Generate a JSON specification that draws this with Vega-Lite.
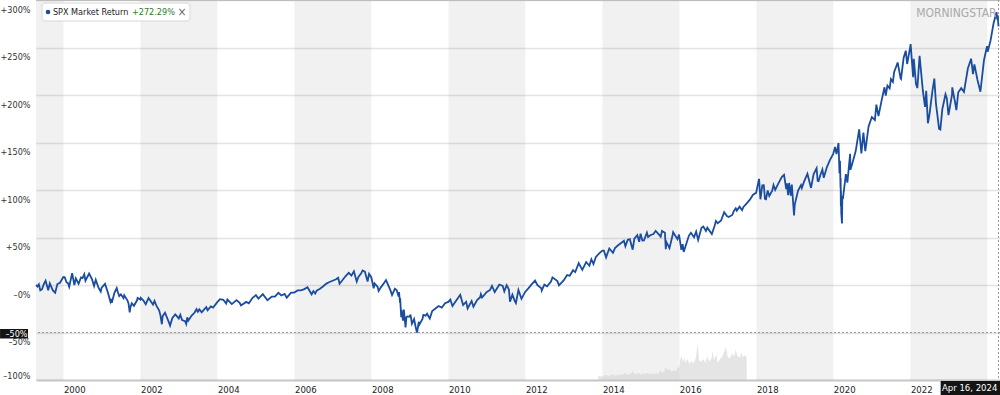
{
  "$schema": "https://vega.github.io/schema/vega-lite/v6.json",
  "width": 964,
  "height": 380,
  "autosize": {"type": "none"},
  "padding": {"left": 36, "top": 0, "right": 0, "bottom": 15},
  "background": "white",
  "config": {
    "view": {"stroke": null},
    "font": "Liberation Sans Narrow, Arial Narrow, DejaVu Sans Condensed, sans-serif",
    "axisX": {
      "grid": false, "ticks": false,
      "tickCount": {"interval": "year", "step": 2},
      "format": "%Y",
      "labelExpr": "datum.label == '2024' ? '' : datum.label",
      "domainColor": "#c6c6c6", "domainWidth": 2,
      "labelAlign": "left", "labelPadding": 4, "labelFontSize": 9.5, "labelColor": "#222222",
      "labelOverlap": false, "labelFlush": false
    }
  },
  "datasets": {
    "spx": [
      {"d":"1999-04-16","v":0},{"d":"1999-04-30","v":-1.6},{"d":"1999-05-13","v":0.8},{"d":"1999-05-27","v":-5.6},{"d":"1999-06-11","v":-4.7},{"d":"1999-06-30","v":1.2},{"d":"1999-07-16","v":4.5},{"d":"1999-08-10","v":-5.6},{"d":"1999-08-25","v":1.8},{"d":"1999-09-23","v":-5.7},{"d":"1999-10-15","v":-8.1},{"d":"1999-11-05","v":1.0},{"d":"1999-11-30","v":2.4},{"d":"1999-12-31","v":8.3},
      {"d":"2000-01-14","v":8.0},{"d":"2000-01-31","v":2.7},{"d":"2000-02-14","v":2.0},{"d":"2000-02-25","v":-1.8},{"d":"2000-03-24","v":12.5},{"d":"2000-04-14","v":0.0},{"d":"2000-04-28","v":7.0},{"d":"2000-05-24","v":1.2},{"d":"2000-06-16","v":7.9},{"d":"2000-06-30","v":7.2},{"d":"2000-07-17","v":11.3},{"d":"2000-07-28","v":4.6},{"d":"2000-09-01","v":12.1},{"d":"2000-09-29","v":5.9},{"d":"2000-10-18","v":-1.1},{"d":"2000-11-03","v":5.4},{"d":"2000-11-30","v":-3.1},{"d":"2000-12-20","v":-6.9},{"d":"2000-12-29","v":-2.7},
      {"d":"2001-01-30","v":1.2},{"d":"2001-02-28","v":-8.6},{"d":"2001-03-22","v":-17.6},{"d":"2001-03-30","v":-14.5},{"d":"2001-04-04","v":-18.6},{"d":"2001-04-30","v":-8.0},{"d":"2001-05-21","v":-3.3},{"d":"2001-05-31","v":-7.4},{"d":"2001-06-14","v":-11.6},{"d":"2001-06-29","v":-9.8},{"d":"2001-07-24","v":-13.8},{"d":"2001-07-31","v":-10.8},{"d":"2001-08-31","v":-16.4},{"d":"2001-09-10","v":-19.5},{"d":"2001-09-21","v":-28.8},{"d":"2001-09-28","v":-23.3},{"d":"2001-10-11","v":-19.2},{"d":"2001-10-31","v":-21.9},{"d":"2001-11-30","v":-16.1},{"d":"2001-12-05","v":-13.7},{"d":"2001-12-31","v":-15.4},
      {"d":"2002-01-04","v":-13.6},{"d":"2002-01-31","v":-16.7},{"d":"2002-02-20","v":-20.4},{"d":"2002-02-28","v":-18.4},{"d":"2002-03-19","v":-13.8},{"d":"2002-04-30","v":-20.6},{"d":"2002-05-14","v":-16.8},{"d":"2002-05-31","v":-21.4},{"d":"2002-06-28","v":-27.0},{"d":"2002-07-10","v":-32.2},{"d":"2002-07-23","v":-41.3},{"d":"2002-07-31","v":-32.8},{"d":"2002-08-22","v":-29.1},{"d":"2002-09-30","v":-39.9},{"d":"2002-10-09","v":-42.7},{"d":"2002-10-31","v":-34.7},{"d":"2002-11-27","v":-30.9},{"d":"2002-12-31","v":-35.2},
      {"d":"2003-01-14","v":-31.4},{"d":"2003-01-31","v":-36.9},{"d":"2003-02-28","v":-38.0},{"d":"2003-03-11","v":-41.0},{"d":"2003-03-21","v":-34.0},{"d":"2003-03-31","v":-37.5},{"d":"2003-04-30","v":-32.4},{"d":"2003-05-30","v":-29.0},{"d":"2003-06-17","v":-25.5},{"d":"2003-06-30","v":-28.2},{"d":"2003-07-14","v":-25.7},{"d":"2003-08-05","v":-28.8},{"d":"2003-08-29","v":-25.7},{"d":"2003-09-18","v":-23.4},{"d":"2003-09-30","v":-26.6},{"d":"2003-10-31","v":-22.6},{"d":"2003-11-21","v":-23.7},{"d":"2003-12-31","v":-18.1},
      {"d":"2004-01-26","v":-14.9},{"d":"2004-02-27","v":-15.6},{"d":"2004-03-24","v":-19.6},{"d":"2004-04-05","v":-15.3},{"d":"2004-05-17","v":-20.1},{"d":"2004-06-30","v":-15.9},{"d":"2004-07-30","v":-18.8},{"d":"2004-08-12","v":-21.6},{"d":"2004-09-30","v":-17.8},{"d":"2004-10-25","v":-19.3},{"d":"2004-11-30","v":-13.5},{"d":"2004-12-31","v":-10.7},
      {"d":"2005-01-24","v":-14.3},{"d":"2005-03-07","v":-9.7},{"d":"2005-04-20","v":-16.1},{"d":"2005-05-31","v":-12.2},{"d":"2005-06-30","v":-12.2},{"d":"2005-08-02","v":-8.2},{"d":"2005-08-30","v":-11.0},{"d":"2005-09-30","v":-9.4},{"d":"2005-10-20","v":-13.3},{"d":"2005-11-30","v":-8.0},{"d":"2005-12-30","v":-8.0},
      {"d":"2006-01-31","v":-5.7},{"d":"2006-02-28","v":-5.6},{"d":"2006-03-31","v":-4.6},{"d":"2006-05-05","v":-2.4},{"d":"2006-06-13","v":-9.8},{"d":"2006-06-30","v":-6.4},{"d":"2006-07-17","v":-8.9},{"d":"2006-07-31","v":-5.9},{"d":"2006-08-31","v":-3.9},{"d":"2006-09-29","v":-1.5},{"d":"2006-10-31","v":1.5},{"d":"2006-11-30","v":3.2},{"d":"2006-12-29","v":4.5},
      {"d":"2007-01-31","v":6.0},{"d":"2007-02-20","v":7.6},{"d":"2007-03-05","v":1.3},{"d":"2007-03-30","v":4.7},{"d":"2007-04-30","v":9.2},{"d":"2007-05-31","v":12.8},{"d":"2007-06-26","v":9.9},{"d":"2007-07-19","v":14.4},{"d":"2007-08-15","v":3.6},{"d":"2007-08-31","v":8.6},{"d":"2007-09-28","v":12.5},{"d":"2007-10-09","v":15.3},{"d":"2007-10-31","v":14.1},{"d":"2007-11-26","v":3.7},{"d":"2007-12-10","v":11.7},{"d":"2007-12-31","v":8.2},
      {"d":"2008-01-23","v":-3.5},{"d":"2008-01-31","v":1.6},{"d":"2008-02-29","v":-1.9},{"d":"2008-03-10","v":-6.2},{"d":"2008-03-31","v":-2.5},{"d":"2008-04-30","v":2.1},{"d":"2008-05-19","v":5.2},{"d":"2008-06-30","v":-5.7},{"d":"2008-07-15","v":-10.5},{"d":"2008-07-31","v":-6.6},{"d":"2008-08-11","v":-3.8},{"d":"2008-08-29","v":-5.5},{"d":"2008-09-15","v":-12.1},{"d":"2008-09-19","v":-7.5},{"d":"2008-09-29","v":-18.5},{"d":"2008-09-30","v":-14.1},{"d":"2008-10-10","v":-33.8},{"d":"2008-10-13","v":-26.1},{"d":"2008-10-27","v":-37.5},{"d":"2008-11-04","v":-25.9},{"d":"2008-11-20","v":-44.6},{"d":"2008-11-28","v":-34.0},{"d":"2008-12-08","v":-33.0},{"d":"2008-12-31","v":-33.5},
      {"d":"2009-01-06","v":-31.1},{"d":"2009-01-20","v":-40.7},{"d":"2009-02-09","v":-35.9},{"d":"2009-02-27","v":-45.8},{"d":"2009-03-09","v":-50.1},{"d":"2009-03-26","v":-38.7},{"d":"2009-03-30","v":-41.9},{"d":"2009-04-30","v":-35.7},{"d":"2009-05-08","v":-31.5},{"d":"2009-05-29","v":-32.3},{"d":"2009-06-12","v":-30.2},{"d":"2009-07-08","v":-35.2},{"d":"2009-07-31","v":-27.3},{"d":"2009-08-31","v":-24.8},{"d":"2009-09-30","v":-22.1},{"d":"2009-10-30","v":-23.7},{"d":"2009-11-30","v":-19.2},{"d":"2009-12-31","v":-17.8},
      {"d":"2010-01-19","v":-15.3},{"d":"2010-02-08","v":-22.2},{"d":"2010-03-31","v":-13.9},{"d":"2010-04-23","v":-10.3},{"d":"2010-05-20","v":-21.1},{"d":"2010-06-18","v":-17.7},{"d":"2010-07-02","v":-24.6},{"d":"2010-08-09","v":-16.9},{"d":"2010-08-26","v":-22.8},{"d":"2010-09-30","v":-15.9},{"d":"2010-10-29","v":-12.8},{"d":"2010-11-05","v":-9.7},{"d":"2010-11-16","v":-13.2},{"d":"2010-12-31","v":-7.3},
      {"d":"2011-01-31","v":-5.2},{"d":"2011-02-18","v":-1.0},{"d":"2011-03-16","v":-7.4},{"d":"2011-04-29","v":0.5},{"d":"2011-05-31","v":-0.9},{"d":"2011-06-15","v":-6.8},{"d":"2011-07-07","v":-0.2},{"d":"2011-07-29","v":-4.8},{"d":"2011-08-08","v":-17.5},{"d":"2011-08-31","v":-10.2},{"d":"2011-09-22","v":-16.7},{"d":"2011-10-03","v":-19.0},{"d":"2011-10-27","v":-5.3},{"d":"2011-11-25","v":-14.6},{"d":"2011-12-30","v":-7.3},
      {"d":"2012-01-31","v":-3.3},{"d":"2012-02-29","v":0.7},{"d":"2012-04-02","v":4.6},{"d":"2012-04-23","v":0.1},{"d":"2012-05-31","v":-3.5},{"d":"2012-06-04","v":-5.8},{"d":"2012-06-29","v":0.4},{"d":"2012-07-25","v":-1.4},{"d":"2012-08-31","v":3.7},{"d":"2012-09-14","v":8.0},{"d":"2012-10-31","v":4.1},{"d":"2012-11-15","v":-0.3},{"d":"2012-12-31","v":5.1},
      {"d":"2013-01-31","v":10.4},{"d":"2013-02-25","v":9.7},{"d":"2013-03-28","v":15.6},{"d":"2013-04-18","v":13.6},{"d":"2013-05-21","v":23.0},{"d":"2013-06-24","v":15.9},{"d":"2013-07-31","v":24.2},{"d":"2013-08-30","v":20.3},{"d":"2013-09-18","v":27.1},{"d":"2013-10-08","v":22.0},{"d":"2013-10-31","v":29.5},{"d":"2013-11-29","v":33.1},{"d":"2013-12-31","v":36.2},
      {"d":"2014-01-15","v":36.2},{"d":"2014-02-05","v":29.1},{"d":"2014-03-07","v":38.4},{"d":"2014-04-11","v":33.8},{"d":"2014-04-30","v":38.8},{"d":"2014-05-30","v":41.8},{"d":"2014-06-30","v":44.4},{"d":"2014-07-24","v":46.5},{"d":"2014-08-07","v":40.7},{"d":"2014-08-29","v":47.6},{"d":"2014-09-18","v":48.2},{"d":"2014-10-15","v":37.2},{"d":"2014-10-31","v":48.7},{"d":"2014-11-28","v":52.4},{"d":"2014-12-16","v":45.4},{"d":"2014-12-29","v":54.1},
      {"d":"2015-01-15","v":46.8},{"d":"2015-01-30","v":47.0},{"d":"2015-02-27","v":55.1},{"d":"2015-03-10","v":50.6},{"d":"2015-03-31","v":52.4},{"d":"2015-04-30","v":53.7},{"d":"2015-05-21","v":57.0},{"d":"2015-06-30","v":52.0},{"d":"2015-07-08","v":50.8},{"d":"2015-07-20","v":56.8},{"d":"2015-08-17","v":54.9},{"d":"2015-08-25","v":37.7},{"d":"2015-08-31","v":45.3},{"d":"2015-09-29","v":38.8},{"d":"2015-10-30","v":53.2},{"d":"2015-11-03","v":55.5},{"d":"2015-12-14","v":48.3},{"d":"2015-12-29","v":53.1},
      {"d":"2016-01-20","v":37.0},{"d":"2016-02-01","v":43.0},{"d":"2016-02-11","v":34.8},{"d":"2016-03-31","v":51.8},{"d":"2016-04-20","v":54.9},{"d":"2016-05-19","v":50.3},{"d":"2016-06-08","v":56.2},{"d":"2016-06-27","v":47.5},{"d":"2016-07-29","v":60.2},{"d":"2016-08-15","v":61.5},{"d":"2016-09-09","v":56.8},{"d":"2016-09-22","v":60.4},{"d":"2016-11-04","v":53.6},{"d":"2016-11-30","v":62.0},{"d":"2016-12-13","v":67.4},{"d":"2016-12-30","v":65.0},
      {"d":"2017-01-31","v":67.9},{"d":"2017-03-01","v":76.6},{"d":"2017-03-27","v":72.6},{"d":"2017-04-13","v":71.6},{"d":"2017-05-17","v":73.7},{"d":"2017-05-31","v":77.7},{"d":"2017-06-19","v":80.8},{"d":"2017-06-29","v":78.3},{"d":"2017-07-26","v":82.5},{"d":"2017-08-18","v":78.8},{"d":"2017-08-31","v":82.2},{"d":"2017-09-29","v":85.6},{"d":"2017-10-31","v":89.8},{"d":"2017-11-30","v":95.1},{"d":"2017-12-29","v":97.0},
      {"d":"2018-01-26","v":111.7},{"d":"2018-02-08","v":90.2},{"d":"2018-02-26","v":104.9},{"d":"2018-03-12","v":105.1},{"d":"2018-03-23","v":90.7},{"d":"2018-04-02","v":90.3},{"d":"2018-04-18","v":99.6},{"d":"2018-05-03","v":93.7},{"d":"2018-05-31","v":99.3},{"d":"2018-06-12","v":105.3},{"d":"2018-06-28","v":100.1},{"d":"2018-07-31","v":107.5},{"d":"2018-08-31","v":113.9},{"d":"2018-09-20","v":116.0},{"d":"2018-10-11","v":101.0},{"d":"2018-10-17","v":107.0},{"d":"2018-10-29","v":94.6},{"d":"2018-11-07","v":107.4},{"d":"2018-11-23","v":94.0},{"d":"2018-12-03","v":105.6},{"d":"2018-12-24","v":73.3},{"d":"2018-12-31","v":84.7},
      {"d":"2019-01-31","v":99.3},{"d":"2019-02-28","v":105.2},{"d":"2019-03-08","v":102.1},{"d":"2019-03-29","v":108.8},{"d":"2019-04-30","v":117.1},{"d":"2019-06-03","v":102.2},{"d":"2019-06-28","v":116.8},{"d":"2019-07-26","v":123.0},{"d":"2019-08-05","v":109.7},{"d":"2019-08-14","v":109.3},{"d":"2019-08-30","v":115.6},{"d":"2019-09-19","v":121.5},{"d":"2019-10-02","v":112.8},{"d":"2019-10-31","v":123.9},{"d":"2019-11-29","v":131.5},{"d":"2019-12-31","v":138.1},
      {"d":"2020-01-17","v":145.4},{"d":"2020-01-31","v":137.7},{"d":"2020-02-19","v":149.5},{"d":"2020-02-28","v":117.7},{"d":"2020-03-04","v":130.7},{"d":"2020-03-09","v":102.4},{"d":"2020-03-10","v":112.4},{"d":"2020-03-12","v":82.8},{"d":"2020-03-13","v":99.8},{"d":"2020-03-16","v":75.8},{"d":"2020-03-23","v":64.8},{"d":"2020-03-26","v":93.8},{"d":"2020-03-31","v":90.5},{"d":"2020-04-29","v":116.7},{"d":"2020-05-13","v":107.8},{"d":"2020-06-08","v":138.2},{"d":"2020-06-11","v":121.2},{"d":"2020-06-30","v":128.4},{"d":"2020-07-31","v":141.0},{"d":"2020-09-02","v":163.8},{"d":"2020-09-23","v":138.5},{"d":"2020-10-12","v":160.4},{"d":"2020-10-30","v":141.0},{"d":"2020-11-30","v":166.9},{"d":"2020-12-31","v":176.8},
      {"d":"2021-01-29","v":173.7},{"d":"2021-02-12","v":189.9},{"d":"2021-03-04","v":177.7},{"d":"2021-03-31","v":192.8},{"d":"2021-04-30","v":208.1},{"d":"2021-05-12","v":199.4},{"d":"2021-05-28","v":209.8},{"d":"2021-06-18","v":207.0},{"d":"2021-06-30","v":216.7},{"d":"2021-07-19","v":213.8},{"d":"2021-07-30","v":223.9},{"d":"2021-08-31","v":233.3},{"d":"2021-09-02","v":234.3},{"d":"2021-09-30","v":217.5},{"d":"2021-10-04","v":216.9},{"d":"2021-10-29","v":239.3},{"d":"2021-11-18","v":246.7},{"d":"2021-12-01","v":232.6},{"d":"2021-12-31","v":251.2},
      {"d":"2022-01-03","v":253.5},{"d":"2022-01-27","v":218.8},{"d":"2022-02-02","v":238.2},{"d":"2022-02-23","v":211.4},{"d":"2022-03-08","v":207.3},{"d":"2022-03-29","v":241.3},{"d":"2022-04-29","v":204.5},{"d":"2022-05-20","v":187.5},{"d":"2022-05-31","v":204.5},{"d":"2022-06-16","v":170.2},{"d":"2022-06-30","v":178.9},{"d":"2022-07-29","v":204.3},{"d":"2022-08-16","v":217.2},{"d":"2022-08-31","v":191.5},{"d":"2022-09-30","v":164.3},{"d":"2022-10-12","v":163.6},{"d":"2022-10-31","v":185.3},{"d":"2022-11-30","v":200.7},{"d":"2022-12-13","v":196.2},{"d":"2022-12-28","v":178.8},
      {"d":"2023-01-31","v":200.4},{"d":"2023-02-02","v":208.0},{"d":"2023-02-28","v":192.6},{"d":"2023-03-13","v":184.1},{"d":"2023-03-31","v":202.8},{"d":"2023-04-28","v":207.2},{"d":"2023-05-24","v":203.2},{"d":"2023-06-30","v":227.9},{"d":"2023-07-31","v":238.2},{"d":"2023-08-18","v":222.0},{"d":"2023-08-31","v":232.2},{"d":"2023-09-29","v":216.0},{"d":"2023-10-27","v":203.4},{"d":"2023-11-30","v":236.6},{"d":"2023-12-29","v":251.5},
      {"d":"2024-01-04","v":245.5},{"d":"2024-01-31","v":257.1},{"d":"2024-02-29","v":275.5},{"d":"2024-03-28","v":287.2},{"d":"2024-04-04","v":279.3},{"d":"2024-04-09","v":283.9},{"d":"2024-04-12","v":277.5},{"d":"2024-04-16","v":272.3}
    ],
    "vol": [
      {"d":"2013-11-20","q":0},{"d":"2013-11-22","q":0.9},{"d":"2013-12-10","q":1.1},{"d":"2013-12-27","q":0.8},{"d":"2014-01-15","q":1.2},{"d":"2014-02-05","q":1.4},{"d":"2014-02-25","q":1.0},{"d":"2014-03-15","q":1.2},{"d":"2014-04-05","q":1.5},{"d":"2014-04-25","q":1.1},{"d":"2014-05-15","q":1.3},{"d":"2014-06-05","q":1.2},{"d":"2014-06-25","q":1.6},{"d":"2014-07-15","q":1.3},{"d":"2014-08-05","q":1.9},{"d":"2014-08-25","q":1.4},{"d":"2014-09-15","q":1.6},{"d":"2014-10-05","q":1.8},{"d":"2014-10-15","q":2.4},{"d":"2014-10-30","q":1.7},{"d":"2014-11-20","q":1.5},{"d":"2014-12-10","q":1.9},{"d":"2014-12-30","q":1.4},
      {"d":"2015-01-20","q":1.8},{"d":"2015-02-10","q":1.6},{"d":"2015-03-05","q":1.9},{"d":"2015-03-25","q":1.5},{"d":"2015-04-15","q":1.7},{"d":"2015-05-05","q":1.5},{"d":"2015-05-25","q":1.8},{"d":"2015-06-15","q":1.6},{"d":"2015-07-05","q":2.5},{"d":"2015-07-20","q":1.9},{"d":"2015-08-10","q":2.2},{"d":"2015-08-25","q":3.4},{"d":"2015-09-10","q":2.6},{"d":"2015-09-30","q":2.9},{"d":"2015-10-20","q":2.1},{"d":"2015-11-10","q":2.6},{"d":"2015-11-30","q":2.3},{"d":"2015-12-18","q":3.5},{"d":"2015-12-30","q":3.0},
      {"d":"2016-01-08","q":5.2},{"d":"2016-01-20","q":6.4},{"d":"2016-02-05","q":4.8},{"d":"2016-02-15","q":5.9},{"d":"2016-03-01","q":4.6},{"d":"2016-03-20","q":5.5},{"d":"2016-04-05","q":4.2},{"d":"2016-04-25","q":5.0},{"d":"2016-05-15","q":4.5},{"d":"2016-06-05","q":5.8},{"d":"2016-06-24","q":9.6},{"d":"2016-07-05","q":5.2},{"d":"2016-07-25","q":4.8},{"d":"2016-08-15","q":5.6},{"d":"2016-09-05","q":4.5},{"d":"2016-09-20","q":6.3},{"d":"2016-10-10","q":5.0},{"d":"2016-11-01","q":5.6},{"d":"2016-11-10","q":7.6},{"d":"2016-11-25","q":5.2},{"d":"2016-12-16","q":6.8},{"d":"2016-12-30","q":4.5},
      {"d":"2017-01-20","q":5.4},{"d":"2017-02-10","q":6.2},{"d":"2017-03-01","q":7.5},{"d":"2017-03-17","q":8.6},{"d":"2017-04-05","q":6.0},{"d":"2017-04-25","q":5.8},{"d":"2017-05-17","q":7.0},{"d":"2017-06-05","q":6.2},{"d":"2017-06-16","q":8.0},{"d":"2017-07-05","q":6.4},{"d":"2017-07-25","q":5.8},{"d":"2017-08-10","q":7.2},{"d":"2017-08-25","q":6.0},{"d":"2017-09-12","q":6.5},{"d":"2017-09-30","q":6.0},{"d":"2017-10-02","q":0}
    ],
    "bands": [
      {"s":"1999-04-16","e":"2000-01-01"},{"s":"2002-01-01","e":"2004-01-01"},{"s":"2006-01-01","e":"2008-01-01"},{"s":"2010-01-01","e":"2012-01-01"},{"s":"2014-01-01","e":"2016-01-01"},{"s":"2018-01-01","e":"2020-01-01"},{"s":"2022-01-01","e":"2024-01-01"}
    ]
  },
  "layer": [
    {
      "data": {"name": "bands"},
      "mark": {"type": "rect", "color": "#000000", "opacity": 0.055},
      "encoding": {
        "x": {
          "field": "s", "type": "temporal", "title": null,
          "scale": {"domain": [{"year": 1999, "month": 4, "date": 16, "utc": true}, {"year": 2024, "month": 4, "date": 30, "utc": true}], "nice": false}
        },
        "x2": {"field": "e"}
      }
    },
    {
      "data": {"values": [{"v": -50}]},
      "mark": {"type": "rule", "color": "#9a9a9a", "strokeDash": [2, 2], "strokeWidth": 1},
      "encoding": {
        "y": {
          "field": "v", "type": "quantitative",
          "scale": {"domain": [-100, 300], "nice": false, "zero": false},
          "axis": {
            "orient": "left", "title": null, "domain": false, "ticks": false,
            "values": [-50, 0, 50, 100, 150, 200, 250, 300],
            "labelExpr": "datum.value > 0 ? '+' + datum.value + '%' : (datum.value == 0 ? '–0%' : '–' + abs(datum.value) + '%')",
            "labelPadding": 6, "labelFontSize": 9, "labelColor": "#333333",
            "labelOffset": 9,
            "labelOverlap": false, "labelFlush": false, "labelBound": false,
            "gridColor": "#e4e4e4",
            "gridWidth": 1.5
          }
        }
      }
    },
    {
      "data": {"values": [{"v": 300}]},
      "mark": {"type": "rule", "color": "#bdbdbd", "strokeWidth": 2},
      "encoding": {
        "y": {
          "field": "v", "type": "quantitative",
          "scale": {"domain": [-100, 300], "nice": false, "zero": false},
          "axis": {
            "orient": "left", "title": null, "domain": false, "ticks": false, "grid": false,
            "values": [-100],
            "labelExpr": "'–100%'",
            "labelPadding": 6, "labelFontSize": 9, "labelColor": "#333333",
            "labelOffset": -5,
            "labelOverlap": false, "labelFlush": false, "labelBound": false
          }
        }
      }
    },
    {
      "data": {"values": [{"d": "2024-04-16"}]},
      "mark": {"type": "rule", "color": "#9a9a9a", "strokeDash": [2, 2], "strokeWidth": 1},
      "encoding": {"x": {"field": "d", "type": "temporal", "title": null}}
    },
    {
      "data": {"name": "vol"},
      "mark": {"type": "area", "color": "#cfcfcf", "opacity": 0.55},
      "encoding": {
        "x": {"field": "d", "type": "temporal", "title": null},
        "y": {"field": "q", "type": "quantitative", "scale": {"domain": [0, 100], "nice": false}, "axis": null}
      }
    },
    {
      "data": {"name": "spx"},
      "mark": {"type": "line", "color": "#1a4ca0", "strokeWidth": 1.8},
      "encoding": {
        "x": {"field": "d", "type": "temporal", "title": null},
        "y": {"field": "v", "type": "quantitative", "scale": {"domain": [-100, 300], "nice": false, "zero": false}, "axis": null}
      }
    },
    {
      "data": {"values": [{"x1": "1999-06-12", "x2": "2003-04-16", "y1": 296.8, "y2": 277.9}]},
      "mark": {"type": "rect", "fill": "#ffffff", "stroke": "#d6d6d6", "strokeWidth": 1, "cornerRadius": 3},
      "encoding": {
        "x": {"field": "x1", "type": "temporal", "title": null},
        "x2": {"field": "x2"},
        "y": {"field": "y1", "type": "quantitative", "scale": {"domain": [-100, 300], "nice": false, "zero": false}, "axis": null},
        "y2": {"field": "y2"}
      }
    },
    {
      "data": {"values": [{"d": "1999-08-08", "v": 287.4}]},
      "mark": {"type": "point", "filled": true, "color": "#1a4ca0", "size": 22, "opacity": 1},
      "encoding": {
        "x": {"field": "d", "type": "temporal", "title": null},
        "y": {"field": "v", "type": "quantitative", "scale": {"domain": [-100, 300], "nice": false, "zero": false}, "axis": null}
      }
    },
    {
      "data": {"values": [{"d": "1999-09-24", "v": 287.4, "t": "SPX Market Return"}]},
      "mark": {"type": "text", "align": "left", "baseline": "middle", "fontSize": 9, "color": "#222222"},
      "encoding": {
        "x": {"field": "d", "type": "temporal", "title": null},
        "y": {"field": "v", "type": "quantitative", "scale": {"domain": [-100, 300], "nice": false, "zero": false}, "axis": null},
        "text": {"field": "t"}
      }
    },
    {
      "data": {"values": [{"d": "2001-10-13", "v": 287.4, "t": "+272.29%"}]},
      "mark": {"type": "text", "align": "left", "baseline": "middle", "fontSize": 9, "color": "#2b7a2b"},
      "encoding": {
        "x": {"field": "d", "type": "temporal", "title": null},
        "y": {"field": "v", "type": "quantitative", "scale": {"domain": [-100, 300], "nice": false, "zero": false}, "axis": null},
        "text": {"field": "t"}
      }
    },
    {
      "data": {"values": [{"d": "2003-01-30", "v": 287.8, "t": "×"}]},
      "mark": {"type": "text", "align": "center", "baseline": "middle", "fontSize": 12, "color": "#666666"},
      "encoding": {
        "x": {"field": "d", "type": "temporal", "title": null},
        "y": {"field": "v", "type": "quantitative", "scale": {"domain": [-100, 300], "nice": false, "zero": false}, "axis": null},
        "text": {"field": "t"}
      }
    },
    {
      "data": {"values": [{"d": "2024-03-29", "v": 286.5, "t": "MORNINGSTAR"}]},
      "mark": {"type": "text", "align": "right", "baseline": "middle", "fontSize": 12, "color": "#a9a9a9"},
      "encoding": {
        "x": {"field": "d", "type": "temporal", "title": null},
        "y": {"field": "v", "type": "quantitative", "scale": {"domain": [-100, 300], "nice": false, "zero": false}, "axis": null},
        "text": {"field": "t"}
      }
    },
    {
      "data": {"values": [{"x1": "2022-10-15", "x2": "2024-04-30", "y1": -101.1, "y2": -115.8}, {"x1": "1998-05-10", "x2": "1999-01-30", "y1": -46.3, "y2": -56.3}]},
      "mark": {"type": "rect", "fill": "#141414"},
      "encoding": {
        "x": {"field": "x1", "type": "temporal", "title": null},
        "x2": {"field": "x2"},
        "y": {"field": "y1", "type": "quantitative", "scale": {"domain": [-100, 300], "nice": false, "zero": false}, "axis": null},
        "y2": {"field": "y2"}
      }
    },
    {
      "data": {"values": [{"d": "2023-07-17", "v": -108.9, "t": "Apr 16, 2024"}]},
      "mark": {"type": "text", "align": "center", "baseline": "middle", "fontSize": 9.5, "color": "#ffffff"},
      "encoding": {
        "x": {"field": "d", "type": "temporal", "title": null},
        "y": {"field": "v", "type": "quantitative", "scale": {"domain": [-100, 300], "nice": false, "zero": false}, "axis": null},
        "text": {"field": "t"}
      }
    },
    {
      "data": {"values": [{"d": "1999-01-26", "v": -51.3, "t": "–50%"}]},
      "mark": {"type": "text", "align": "right", "baseline": "middle", "fontSize": 9, "color": "#ffffff"},
      "encoding": {
        "x": {"field": "d", "type": "temporal", "title": null},
        "y": {"field": "v", "type": "quantitative", "scale": {"domain": [-100, 300], "nice": false, "zero": false}, "axis": null},
        "text": {"field": "t"}
      }
    }
  ],
  "resolve": {"scale": {"y": "independent"}}
}
